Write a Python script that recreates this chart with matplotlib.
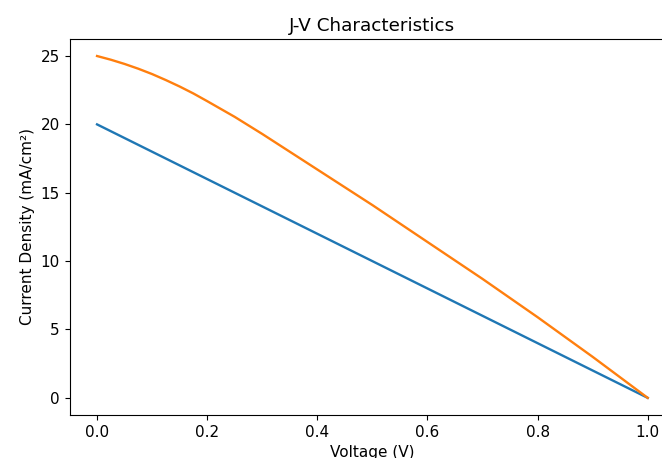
import numpy as np
import matplotlib
matplotlib.use("Agg")
import matplotlib.pyplot as plt

# voltage points (V)
voltage = [0.000, 0.025, 0.050, 0.075, 0.100, 0.125, 0.150, 0.175, 0.200,
           0.25, 0.30, 0.35, 0.40, 0.45, 0.50, 0.55, 0.60, 0.65, 0.70,
           0.75, 0.80, 0.85, 0.90, 0.95, 1.00]
# current density for the two cells (mA/cm^2)
j_linear = [20.0, 19.5, 19.0, 18.5, 18.0, 17.5, 17.0, 16.5, 16.0,
            15.0, 14.0, 13.0, 12.0, 11.0, 10.0, 9.0, 8.0, 7.0, 6.0,
            5.0, 4.0, 3.0, 2.0, 1.0, 0.0]
j_curved = [25.0, 24.73, 24.42, 24.07, 23.68, 23.24, 22.77, 22.26, 21.7,
            20.55, 19.3, 18.0, 16.7, 15.4, 14.1, 12.75, 11.4, 10.05, 8.7,
            7.3, 5.9, 4.45, 3.0, 1.5, 0.0]

fig = plt.figure(figsize=(6.62, 4.58), dpi=100)
ax = fig.add_axes([0.105, 0.094, 0.915, 0.821])  # right edge cut off like the reference

ax.plot(voltage, j_linear, lw=1.7)
ax.plot(voltage, j_curved, lw=1.7)

ax.set_title("J-V Characteristics", fontsize=13.2)
ax.set_xlabel("Voltage (V)", fontsize=11)
ax.set_ylabel("Current Density (mA/cm²)", fontsize=11)
ax.tick_params(labelsize=11)

fig.savefig("out.png", dpi=100)
